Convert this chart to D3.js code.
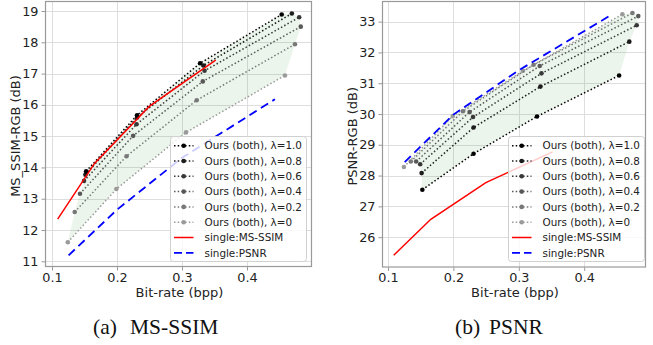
<!DOCTYPE html>
<html>
<head>
<meta charset="utf-8">
<script src="https://cdn.jsdelivr.net/npm/d3@7"></script>
<style>
  body { margin: 0; background: #fff; }
  svg { display: block; }
</style>
</head>
<body>
<script>
// λ variants of "Ours (both)", darkest first
var lambdas = ['1.0', '0.8', '0.6', '0.4', '0.2', '0'];
var lambdaColors = ['#000000', '#1c1c1c', '#383838', '#585858', '#787878', '#9a9a9a'];

// bit-rate (bpp) of each λ model, 4 rate points each
var oursRate = [
    [0.1525, 0.2308, 0.3278, 0.4534],
    [0.1514, 0.2308, 0.3331, 0.4690],
    [0.1492, 0.2300, 0.3347, 0.4803],
    [0.1430, 0.2248, 0.3320, 0.4827],
    [0.1349, 0.2146, 0.3226, 0.4738],
    [0.1243, 0.1990, 0.3062, 0.4584]
];
var oursSsim = [
    [13.875, 15.67, 17.33, 18.89],
    [13.77, 15.60, 17.26, 18.92],
    [13.57, 15.38, 17.09, 18.80],
    [13.16, 15.01, 16.75, 18.50],
    [12.575, 14.36, 16.15, 17.94],
    [11.61, 13.31, 15.12, 16.94]
];
var oursPsnr = [
    [27.54, 28.71, 29.92, 31.25],
    [28.08, 29.56, 30.89, 32.35],
    [28.37, 29.90, 31.32, 32.88],
    [28.455, 30.065, 31.56, 33.18],
    [28.455, 30.09, 31.60, 33.28],
    [28.28, 29.935, 31.40, 33.24]
];

// single-metric baselines
var singleSsimRate = [0.1087, 0.1654, 0.2496, 0.3518];
var singleSsimOnSsim = [12.35, 14.13, 15.95, 17.43];
var singleSsimOnPsnr = [25.41, 26.58, 27.77, 28.77];
var singlePsnrRate = [0.1255, 0.2, 0.3, 0.443];
var singlePsnrOnSsim = [11.19, 12.65, 14.31, 16.18];
var singlePsnrOnPsnr = [28.44, 29.98, 31.42, 33.24];

var rateTicks = [0.1, 0.2, 0.3, 0.4];
var ssimTicks = [11, 12, 13, 14, 15, 16, 17, 18, 19];
var psnrTicks = [26, 27, 28, 29, 30, 31, 32, 33];

var svg = d3.select('body').append('svg')
    .attr('width', 653)
    .attr('height', 345);

function zip(xs, ys) {
    return xs.map(function (v, i) { return [v, ys[i]]; });
}

function drawPanel(cfg) {
    var x = d3.scaleLinear().domain(cfg.xDomain).range([cfg.left, cfg.right]);
    var y = d3.scaleLinear().domain(cfg.yDomain).range([cfg.bottom, cfg.top]);
    var g = svg.append('g');
    var line = d3.line().x(function (d) { return x(d[0]); }).y(function (d) { return y(d[1]); });

    // grid
    g.selectAll('.gx').data(rateTicks).enter().append('line')
        .attr('x1', function (d) { return Math.round(x(d)) + .5; })
        .attr('x2', function (d) { return Math.round(x(d)) + .5; })
        .attr('y1', cfg.top).attr('y2', cfg.bottom)
        .attr('stroke', '#dedede').attr('stroke-width', 1);
    g.selectAll('.gy').data(cfg.yTicks).enter().append('line')
        .attr('y1', function (d) { return Math.round(y(d)) + .5; })
        .attr('y2', function (d) { return Math.round(y(d)) + .5; })
        .attr('x1', cfg.left).attr('x2', cfg.right)
        .attr('stroke', '#dedede').attr('stroke-width', 1);

    // green band spanning the λ curves
    var series = cfg.ours.map(function (ys, i) { return zip(oursRate[i], ys); });
    var n = series.length;
    var poly = series[0].slice();
    for (var i = 1; i < n; i++) poly.push(series[i][series[i].length - 1]);
    for (var j = series[n - 1].length - 2; j >= 0; j--) poly.push(series[n - 1][j]);
    for (var k = n - 2; k >= 1; k--) poly.push(series[k][0]);
    g.append('path')
        .attr('d', line(poly) + 'Z')
        .attr('fill', 'rgba(0,128,0,0.08)')
        .attr('stroke', 'none');

    // λ curves, lightest drawn first
    for (var s = n - 1; s >= 0; s--) {
        g.append('path')
            .attr('d', line(series[s]))
            .attr('fill', 'none')
            .attr('stroke', lambdaColors[s])
            .attr('stroke-width', 1.5)
            .attr('stroke-dasharray', '1.5,2.2');
        g.selectAll('.m' + s).data(series[s]).enter().append('circle')
            .attr('cx', function (d) { return x(d[0]); })
            .attr('cy', function (d) { return y(d[1]); })
            .attr('r', 2.3)
            .attr('fill', lambdaColors[s]);
    }

    // baselines
    g.append('path')
        .attr('d', line(zip(singleSsimRate, cfg.ssimBase)))
        .attr('fill', 'none').attr('stroke', '#ff0000').attr('stroke-width', 1.5);
    g.append('path')
        .attr('d', line(zip(singlePsnrRate, cfg.psnrBase)))
        .attr('fill', 'none').attr('stroke', '#0000ff').attr('stroke-width', 1.8)
        .attr('stroke-dasharray', '8.5,5');

    // axes
    var xAxis = d3.axisBottom(x).tickValues(rateTicks).tickFormat(d3.format('.1f')).tickSize(3.5).tickPadding(2);
    var yAxis = d3.axisLeft(y).tickValues(cfg.yTicks).tickFormat(d3.format('d')).tickSize(3.5).tickPadding(3);
    var ax = g.append('g').attr('transform', 'translate(0,' + cfg.bottom + ')').call(xAxis);
    var ay = g.append('g').attr('transform', 'translate(' + cfg.left + ',0)').call(yAxis);
    [ax, ay].forEach(function (a) {
        a.select('.domain').remove();
        a.selectAll('line').attr('stroke', '#999');
        a.selectAll('text')
            .attr('fill', '#222')
            .style('font-family', 'DejaVu Sans')
            .style('font-size', '12.8px');
    });

    g.append('rect')
        .attr('x', cfg.left + .5).attr('y', cfg.top + .5)
        .attr('width', cfg.right - cfg.left - 1).attr('height', cfg.bottom - cfg.top - 1)
        .attr('fill', 'none').attr('stroke', '#999').attr('stroke-width', 1.2);

    g.append('text')
        .attr('x', (cfg.left + cfg.right) / 2 + 1)
        .attr('y', 296.5)
        .attr('text-anchor', 'middle')
        .attr('fill', '#222')
        .style('font-family', 'DejaVu Sans').style('font-size', '13px')
        .text('Bit-rate (bpp)');
    g.append('text')
        .attr('transform', 'translate(' + cfg.yLabelX + ',' + ((cfg.top + cfg.bottom) / 2 + 2) + ') rotate(-90)')
        .attr('text-anchor', 'middle')
        .attr('dy', '0.35em')
        .attr('fill', '#222')
        .style('font-family', 'DejaVu Sans').style('font-size', '13px')
        .text(cfg.yLabel);

    // legend
    var lx = cfg.legendX, ly = 136.5, rowH = 15.3;
    g.append('rect')
        .attr('x', lx).attr('y', ly)
        .attr('width', 136).attr('height', 125)
        .attr('rx', 3)
        .attr('fill', 'rgba(255,255,255,0.8)')
        .attr('stroke', '#d0d0d0').attr('stroke-width', 1);
    var entries = lambdas.map(function (l, i) {
        return { label: 'Ours (both), \u03bb=' + l, color: lambdaColors[i], kind: 'ours' };
    });
    entries.push({ label: 'single:MS-SSIM', color: '#ff0000', kind: 'solid' });
    entries.push({ label: 'single:PSNR', color: '#0000ff', kind: 'dash' });
    entries.forEach(function (e, i) {
        var cy = ly + 9.2 + i * rowH;
        var l = g.append('line')
            .attr('x1', lx + 3.5).attr('x2', lx + 23)
            .attr('y1', cy).attr('y2', cy)
            .attr('stroke', e.color);
        if (e.kind === 'ours') {
            l.attr('stroke-width', 1.5).attr('stroke-dasharray', '1.5,2.2');
            g.append('circle').attr('cx', lx + 13.2).attr('cy', cy).attr('r', 2.3).attr('fill', e.color);
        } else if (e.kind === 'solid') {
            l.attr('stroke-width', 1.5);
        } else {
            l.attr('stroke-width', 1.8).attr('stroke-dasharray', '8,4');
        }
        g.append('text')
            .attr('x', lx + 34).attr('y', cy)
            .attr('dy', '0.36em')
            .attr('fill', '#222')
            .style('font-family', 'DejaVu Sans').style('font-size', '10.4px')
            .text(e.label);
    });

    // caption
    svg.append('text')
        .attr('x', cfg.capX).attr('y', 334)
        .attr('fill', '#111')
        .style('font-family', 'Liberation Serif').style('font-size', '21.5px')
        .text(cfg.capTag);
    svg.append('text')
        .attr('x', cfg.capX + cfg.capGap).attr('y', 334)
        .attr('fill', '#111')
        .style('font-family', 'Liberation Serif').style('font-size', '21.5px')
        .text(cfg.capText);
}

drawPanel({
    left: 45, right: 312, top: 1, bottom: 267,
    xDomain: [0.0892, 0.5], yDomain: [10.818, 19.32],
    yTicks: ssimTicks,
    ours: oursSsim,
    ssimBase: singleSsimOnSsim,
    psnrBase: singlePsnrOnSsim,
    yLabel: 'MS_SSIM-RGB (dB)', yLabelX: 15.5,
    legendX: 170.5,
    capX: 93, capGap: 37, capTag: '(a)', capText: 'MS-SSIM'
});

drawPanel({
    left: 382, right: 646, top: 1, bottom: 267.5,
    xDomain: [0.0908, 0.4945], yDomain: [25.014, 33.67],
    yTicks: psnrTicks,
    ours: oursPsnr,
    ssimBase: singleSsimOnPsnr,
    psnrBase: singlePsnrOnPsnr,
    yLabel: 'PSNR-RGB (dB)', yLabelX: 352,
    legendX: 508.5,
    capX: 455, capGap: 34, capTag: '(b)', capText: 'PSNR'
});
</script>
</body>
</html>
